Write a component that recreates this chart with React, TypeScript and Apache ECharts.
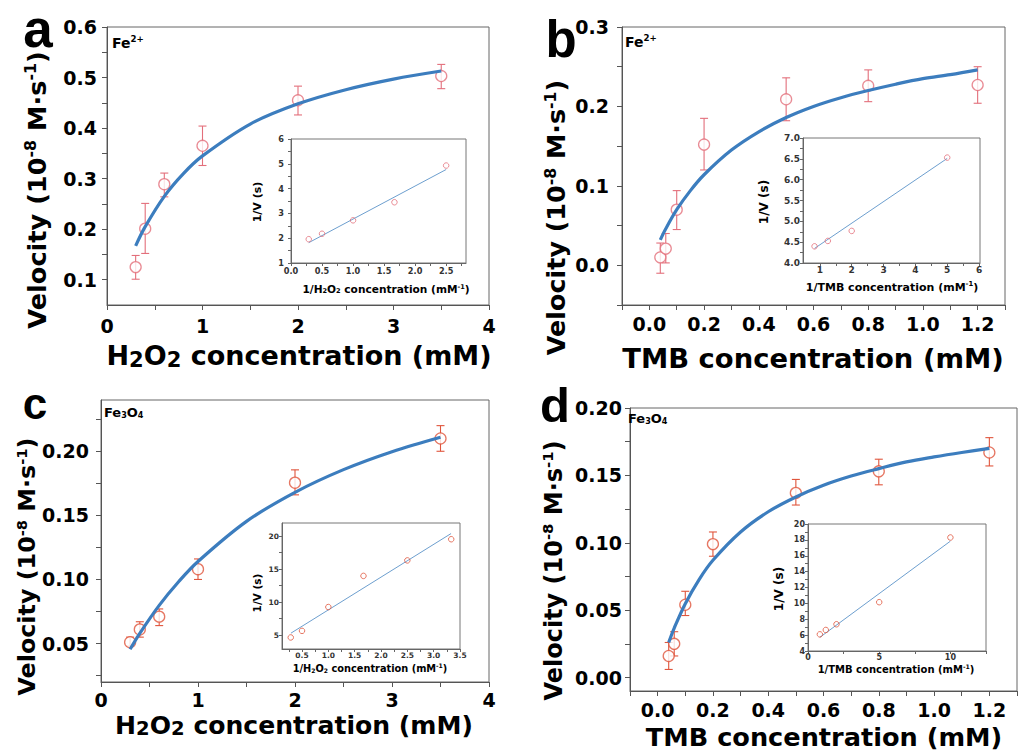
import React, { useEffect, useRef } from 'react';
import * as echarts from 'echarts';

// ---------- Panel a : Fe2+, H2O2 ----------
const aConc = [0.3, 0.4, 0.6, 1.0, 2.0, 3.5];
const aVel = [0.125, 0.201, 0.289, 0.365, 0.455, 0.503];
const aLow = [0.101, 0.152, 0.264, 0.326, 0.426, 0.478];
const aHigh = [0.148, 0.251, 0.311, 0.404, 0.483, 0.526];
const aFitX = [0.3, 0.4, 0.6, 0.8, 1.0, 1.5, 2.0, 2.5, 3.0, 3.5];
const aFitY = [0.167, 0.205, 0.265, 0.31, 0.345, 0.408, 0.448, 0.476, 0.497, 0.513];
const aInvX = [0.286, 0.5, 1.0, 1.667, 2.5];
const aInvY = [1.96, 2.18, 2.72, 3.45, 4.93];
const aLineX = [0.286, 2.5];
const aLineY = [1.82, 4.77];

// ---------- Panel b : Fe2+, TMB ----------
const bConc = [0.04, 0.06, 0.1, 0.2, 0.5, 0.8, 1.2];
const bVel = [0.01, 0.021, 0.07, 0.152, 0.209, 0.226, 0.227];
const bLow = [-0.01, 0.003, 0.045, 0.12, 0.182, 0.206, 0.204];
const bHigh = [0.028, 0.04, 0.094, 0.185, 0.236, 0.246, 0.25];
const bFitX = [0.04, 0.06, 0.1, 0.15, 0.2, 0.3, 0.4, 0.5, 0.6, 0.7, 0.8, 0.9, 1.0, 1.1, 1.2];
const bFitY = [0.032, 0.046, 0.07, 0.094, 0.114, 0.145, 0.168, 0.186, 0.2, 0.211, 0.22, 0.228, 0.235, 0.24, 0.246];
const bInvX = [0.833, 1.25, 2.0, 5.0];
const bInvY = [4.4, 4.53, 4.77, 6.53];
const bLineX = [0.833, 5.0];
const bLineY = [4.35, 6.51];

// ---------- Panel c : Fe3O4, H2O2 ----------
const cConc = [0.3, 0.4, 0.6, 1.0, 2.0, 3.5];
const cVel = [0.051, 0.061, 0.071, 0.108, 0.1755, 0.21];
const cLow = [0.048, 0.055, 0.064, 0.1, 0.166, 0.2];
const cHigh = [0.055, 0.067, 0.077, 0.116, 0.1855, 0.22];
const cFitX = [0.3, 0.4, 0.6, 0.8, 1.0, 1.5, 2.0, 2.5, 3.0, 3.5];
const cFitY = [0.0456, 0.058, 0.0798, 0.0982, 0.114, 0.1453, 0.168, 0.1857, 0.1997, 0.211];
const cInvX = [0.286, 0.5, 1.0, 1.667, 2.5, 3.333];
const cInvY = [4.65, 5.65, 9.26, 13.98, 16.33, 19.54];
const cLineX = [0.29, 3.33];
const cLineY = [5.3, 20.4];

// ---------- Panel d : Fe3O4, TMB ----------
const dConc = [0.04, 0.06, 0.1, 0.2, 0.5, 0.8, 1.2];
const dVel = [0.016, 0.025, 0.054, 0.099, 0.137, 0.153, 0.167];
const dLow = [0.006, 0.016, 0.046, 0.09, 0.128, 0.143, 0.157];
const dHigh = [0.026, 0.034, 0.064, 0.108, 0.147, 0.162, 0.178];
const dFitX = [0.04, 0.06, 0.1, 0.15, 0.2, 0.3, 0.4, 0.5, 0.6, 0.7, 0.8, 0.9, 1.0, 1.1, 1.2];
const dFitY = [0.026, 0.0367, 0.0548, 0.0727, 0.087, 0.108, 0.123, 0.134, 0.1427, 0.1495, 0.155, 0.16, 0.1637, 0.167, 0.17];
const dInvX = [0.833, 1.25, 2.0, 5.0, 10.0];
const dInvY = [6.1, 6.65, 7.37, 10.15, 18.3];
const dLineX = [0.83, 10.0];
const dLineY = [5.72, 17.84];

// ---------- tick labels / tick positions ----------
const aXLabels = [0, 1, 2, 3, 4];
const aXTicks = [0, 0.5, 1, 1.5, 2, 2.5, 3, 3.5, 4];
const aYLabels = [0.1, 0.2, 0.3, 0.4, 0.5, 0.6];
const aYTicks = [0.1, 0.15, 0.2, 0.25, 0.3, 0.35, 0.4, 0.45, 0.5, 0.55, 0.6];
const bXLabels = [0, 0.2, 0.4, 0.6, 0.8, 1.0, 1.2];
const bXTicks = [-0.1, 0, 0.1, 0.2, 0.3, 0.4, 0.5, 0.6, 0.7, 0.8, 0.9, 1.0, 1.1, 1.2, 1.3];
const bYLabels = [0, 0.1, 0.2, 0.3];
const bYTicks = [-0.05, 0, 0.05, 0.1, 0.15, 0.2, 0.25, 0.3];
const cXLabels = [0, 1, 2, 3, 4];
const cXTicks = [0, 0.5, 1, 1.5, 2, 2.5, 3, 3.5, 4];
const cYLabels = [0.05, 0.1, 0.15, 0.2];
const cYTicks = [0.025, 0.05, 0.075, 0.1, 0.125, 0.15, 0.175, 0.2, 0.225];
const dXLabels = [0, 0.2, 0.4, 0.6, 0.8, 1.0, 1.2];
const dXTicks = [-0.1, 0, 0.1, 0.2, 0.3, 0.4, 0.5, 0.6, 0.7, 0.8, 0.9, 1.0, 1.1, 1.2, 1.3];
const dYLabels = [0, 0.05, 0.1, 0.15, 0.2];
const dYTicks = [0, 0.025, 0.05, 0.075, 0.1, 0.125, 0.15, 0.175, 0.2];

const iaXLabels = [0, 0.5, 1.0, 1.5, 2.0, 2.5];
const iaXTicks = [0, 0.25, 0.5, 0.75, 1, 1.25, 1.5, 1.75, 2, 2.25, 2.5, 2.75];
const iaYLabels = [1, 2, 3, 4, 5, 6];
const iaYTicks = [1, 1.5, 2, 2.5, 3, 3.5, 4, 4.5, 5, 5.5, 6];
const ibXLabels = [1, 2, 3, 4, 5, 6];
const ibXTicks = [1, 1.5, 2, 2.5, 3, 3.5, 4, 4.5, 5, 5.5, 6];
const ibYLabels = [4.0, 4.5, 5.0, 5.5, 6.0, 6.5, 7.0];
const ibYTicks = [4, 4.25, 4.5, 4.75, 5, 5.25, 5.5, 5.75, 6, 6.25, 6.5, 6.75, 7];
const icXLabels = [0.5, 1.0, 1.5, 2.0, 2.5, 3.0, 3.5];
const icXTicks = [0.25, 0.5, 0.75, 1, 1.25, 1.5, 1.75, 2, 2.25, 2.5, 2.75, 3, 3.25, 3.5];
const icYLabels = [5, 10, 15, 20];
const icYTicks = [5, 7.5, 10, 12.5, 15, 17.5, 20];
const idXLabels = [0, 5, 10];
const idXTicks = [0, 2.5, 5, 7.5, 10, 12.5];
const idYLabels = [4, 6, 8, 10, 12, 14, 16, 18, 20];
const idYTicks = [4, 5, 6, 7, 8, 9, 10, 11, 12, 13, 14, 15, 16, 17, 18, 19, 20];

const FONT = 'DejaVu Sans';
const LETTER_FONT = 'Liberation Sans';
const CURVE = '#3c7dbe';
const PINK = '#e36f7b';
const RED = '#e0553c';
const INSET_LINE = '#6d9fcf';
const AXIS = '#555';

const zip = (xs: number[], ys: number[]) => xs.map((x, i) => [x, ys[i]]);

function mainAxes(gi: number, xr: number[], yr: number[], xL: number[], xT: number[], yL: number[], yT: number[], fx: (v: number) => string, fy: (v: number) => string, ym: number, xm: number) {
  const common = {
    type: 'value',
    gridIndex: gi,
    splitLine: { show: false },
    axisLine: { show: true, onZero: false, lineStyle: { color: AXIS, width: 1 } },
  };
  const lab = { fontFamily: FONT, fontWeight: 'bold', fontSize: 19, color: '#000' };
  const x = {
    ...common,
    min: xr[0], max: xr[1],
    axisTick: { show: true, inside: false, length: 5, customValues: xT, lineStyle: { color: AXIS } },
    axisLabel: { ...lab, customValues: xL, formatter: fx, margin: xm, showMinLabel: true, showMaxLabel: true },
  };
  const y = {
    ...common,
    min: yr[0], max: yr[1],
    axisTick: { show: true, inside: false, length: 5, customValues: yT, lineStyle: { color: AXIS } },
    axisLabel: { ...lab, customValues: yL, formatter: fy, margin: ym, showMinLabel: true, showMaxLabel: true },
  };
  return { x, y };
}

function insetAxes(gi: number, xr: number[], yr: number[], xL: number[], xT: number[], yL: number[], yT: number[], fx: (v: number) => string, fy: (v: number) => string, fs: number, xm = 2, ym = 3) {
  const common = {
    type: 'value',
    gridIndex: gi,
    splitLine: { show: false },
    axisLine: { show: true, onZero: false, lineStyle: { color: '#666', width: 1 } },
  };
  const lab = { fontFamily: FONT, fontWeight: 'bold', fontSize: fs, color: '#333' };
  return {
    x: {
      ...common, min: xr[0], max: xr[1],
      axisTick: { show: true, inside: false, length: 3, customValues: xT, lineStyle: { color: '#666' } },
      axisLabel: { ...lab, customValues: xL, formatter: fx, margin: xm, showMinLabel: true, showMaxLabel: true },
    },
    y: {
      ...common, min: yr[0], max: yr[1],
      axisTick: { show: true, inside: false, length: 3, customValues: yT, lineStyle: { color: '#666' } },
      axisLabel: { ...lab, customValues: yL, formatter: fy, margin: ym, showMinLabel: true, showMaxLabel: true },
    },
  };
}

function mainSeries(gi: number, conc: number[], vel: number[], low: number[], high: number[], fitX: number[], fitY: number[], color: string) {
  return [
    {
      type: 'custom',
      xAxisIndex: gi, yAxisIndex: gi,
      data: conc.map((c, i) => [c, low[i], high[i]]),
      encode: { x: 0, y: [1, 2] },
      z: 3,
      renderItem: (params: any, api: any) => {
        const x = api.value(0);
        const p1 = api.coord([x, api.value(1)]);
        const p2 = api.coord([x, api.value(2)]);
        const w = 4;
        const st = { stroke: color, lineWidth: 1.1 };
        return {
          type: 'group',
          children: [
            { type: 'line', shape: { x1: p1[0], y1: p1[1], x2: p2[0], y2: p2[1] }, style: st },
            { type: 'line', shape: { x1: p1[0] - w, y1: p1[1], x2: p1[0] + w, y2: p1[1] }, style: st },
            { type: 'line', shape: { x1: p2[0] - w, y1: p2[1], x2: p2[0] + w, y2: p2[1] }, style: st },
          ],
        };
      },
    },
    {
      type: 'scatter',
      xAxisIndex: gi, yAxisIndex: gi,
      data: zip(conc, vel),
      symbol: 'circle',
      symbolSize: 11,
      z: 4,
      itemStyle: { color: '#fff', borderColor: color, borderWidth: 1.3 },
    },
    {
      type: 'line',
      xAxisIndex: gi, yAxisIndex: gi,
      data: zip(fitX, fitY),
      smooth: 0.35,
      showSymbol: false,
      symbol: 'none',
      z: 5,
      lineStyle: { color: CURVE, width: 3.2 },
    },
  ];
}

function insetSeries(gi: number, ix: number[], iy: number[], lx: number[], ly: number[], color: string) {
  return [
    {
      type: 'line',
      xAxisIndex: gi, yAxisIndex: gi,
      data: zip(lx, ly),
      showSymbol: false,
      symbol: 'none',
      z: 5,
      lineStyle: { color: INSET_LINE, width: 1 },
    },
    {
      type: 'scatter',
      xAxisIndex: gi, yAxisIndex: gi,
      data: zip(ix, iy),
      symbol: 'circle',
      symbolSize: 5.5,
      z: 6,
      itemStyle: { color: 'rgba(255,255,255,0)', borderColor: color, borderWidth: 1 },
    },
  ];
}

function textEl(x: number, y: number, text: string, rich: any, align: string, rotation = 0) {
  return {
    type: 'text',
    x, y, rotation,
    z: 100,
    style: {
      text, rich,
      align, verticalAlign: 'middle',
      textAlign: align, textVerticalAlign: 'middle',
      fill: '#000',
    },
  };
}

function richSet(fs: number, color = '#000') {
  const base = { fontWeight: 'bold', fontFamily: FONT, fill: color, color };
  return {
    // main text
    m: { ...base, fontSize: fs, lineHeight: fs * 1.1 },
    // superscript (title)
    s: { ...base, fontSize: fs * 0.62, lineHeight: fs * 0.44, verticalAlign: 'top' },
    // superscript (small labels, raised more)
    p: { ...base, fontSize: fs * 0.62, lineHeight: fs * 0.22, verticalAlign: 'top' },
    // big subscript (titles)
    b: { ...base, fontSize: fs * 0.78, lineHeight: fs * 0.3, verticalAlign: 'bottom' },
    // small subscript
    t: { ...base, fontSize: fs * 0.62, lineHeight: fs * 0.16, verticalAlign: 'bottom' },
  };
}

function letter(x: number, y: number, t: string, fs: number) {
  return {
    type: 'text', x, y, z: 100,
    style: {
      text: t, fontSize: fs, fontWeight: 'bold', fontFamily: LETTER_FONT, fill: '#000',
      align: 'center', verticalAlign: 'middle', textAlign: 'center', textVerticalAlign: 'middle',
    },
  };
}

const f0 = (v: number) => String(Math.round(v));
const f1 = (v: number) => v.toFixed(1);
const f2 = (v: number) => v.toFixed(2);

export default function App() {
  const ref = useRef<HTMLDivElement>(null);
  useEffect(() => {
    if (!ref.current) return;
    const chart = echarts.init(ref.current, undefined, { renderer: 'svg' });

    const grids = [
      { left: 107, top: 27, width: 382, height: 278 },
      { left: 622, top: 27, width: 383, height: 278 },
      { left: 101, top: 400, width: 388, height: 282 },
      { left: 630, top: 408, width: 387, height: 283 },
      { left: 291, top: 139, width: 175, height: 124 },
      { left: 803, top: 138, width: 177, height: 125 },
      { left: 282, top: 523, width: 178, height: 126 },
      { left: 808, top: 524, width: 178, height: 127 },
    ].map((g, i) => ({
      ...g,
      show: true,
      borderColor: i < 4 ? '#666' : '#777',
      borderWidth: 1,
      backgroundColor: '#fff',
      containLabel: false,
      outerBoundsMode: 'none',
    }));

    const A = mainAxes(0, [0, 4], [0.05, 0.6], aXLabels, aXTicks, aYLabels, aYTicks, f0, f1, 10, 11);
    const B = mainAxes(1, [-0.1, 1.3], [-0.05, 0.3], bXLabels, bXTicks, bYLabels, bYTicks, f1, f1, 13, 9.5);
    const C = mainAxes(2, [0, 4], [0.02, 0.24], cXLabels, cXTicks, cYLabels, cYTicks, f0, f2, 12, 8);
    const D = mainAxes(3, [-0.1, 1.3], [-0.01, 0.2], dXLabels, dXTicks, dYLabels, dYTicks, f1, f2, 8, 9.5);
    const IA = insetAxes(4, [0, 2.82], [1, 6], iaXLabels, iaXTicks, iaYLabels, iaYTicks, f1, f0, 8.2, 4, 7);
    const IB = insetAxes(5, [0.47, 6.03], [4, 7], ibXLabels, ibXTicks, ibYLabels, ibYTicks, f0, f1, 9);
    const IC = insetAxes(6, [0.12, 3.5], [2.9, 22], icXLabels, icXTicks, icYLabels, icYTicks, f1, f0, 7.5);
    const ID = insetAxes(7, [0, 12.5], [4, 20], idXLabels, idXTicks, idYLabels, idYTicks, f0, f0, 8);

    const yTitle = '{m|Velocity (10}{s|-8}{m| M·s}{s|-1}{m|)}';
    const xH2O2 = '{m|H}{b|2}{m|O}{b|2}{m| concentration (mM)}';
    const xTMB = '{m|TMB concentration (mM)}';
    const iY = '{m|1/V (s)}';
    const iH2O2 = '{m|1/H}{t|2}{m|O}{t|2}{m| concentration (mM}{p|-1}{m|)}';
    const iTMB = '{m|1/TMB concentration (mM}{p|-1}{m|)}';
    const feII = '{m|Fe}{p|2+}';
    const fe3o4 = '{m|Fe}{t|3}{m|O}{t|4}';
    const R = Math.PI / 2;

    const graphic = [
      letter(38, 28, 'a', 53),
      letter(561, 39, 'b', 51),
      letter(35, 403, 'c', 44),
      letter(555, 405, 'd', 49),
      textEl(37, 190, yTitle, richSet(25.6), 'center', R),
      textEl(556, 217.5, yTitle, richSet(25.4), 'center', R),
      textEl(27, 566.5, yTitle, richSet(23.8), 'center', R),
      textEl(553.5, 570.5, yTitle, richSet(24), 'center', R),
      textEl(299, 355, xH2O2, richSet(27), 'center'),
      textEl(813, 358, xTMB, richSet(27.4), 'center'),
      textEl(294, 725, xH2O2, richSet(25.1), 'center'),
      textEl(824, 737, xTMB, richSet(25.6), 'center'),
      textEl(257, 202, iY, richSet(11), 'center', R),
      textEl(764, 202, iY, richSet(12), 'center', R),
      textEl(257, 593, iY, richSet(10.5), 'center', R),
      textEl(779, 589, iY, richSet(12), 'center', R),
      textEl(386, 289, iH2O2, richSet(10.6), 'center'),
      textEl(892, 287, iTMB, richSet(11), 'center'),
      textEl(370, 668, iH2O2, richSet(9.8), 'center'),
      textEl(896, 669, iTMB, richSet(10), 'center'),
      textEl(112, 42.5, feII, richSet(14), 'left'),
      textEl(625, 41.5, feII, richSet(14), 'left'),
      textEl(104, 412.5, fe3o4, richSet(13), 'left'),
      textEl(628, 418, fe3o4, richSet(13), 'left'),
    ];

    chart.setOption({
      animation: false,
      backgroundColor: '#fff',
      grid: grids,
      xAxis: [A.x, B.x, C.x, D.x, IA.x, IB.x, IC.x, ID.x],
      yAxis: [A.y, B.y, C.y, D.y, IA.y, IB.y, IC.y, ID.y],
      series: [
        ...mainSeries(0, aConc, aVel, aLow, aHigh, aFitX, aFitY, PINK),
        ...mainSeries(1, bConc, bVel, bLow, bHigh, bFitX, bFitY, PINK),
        ...mainSeries(2, cConc, cVel, cLow, cHigh, cFitX, cFitY, RED),
        ...mainSeries(3, dConc, dVel, dLow, dHigh, dFitX, dFitY, RED),
        ...insetSeries(4, aInvX, aInvY, aLineX, aLineY, PINK),
        ...insetSeries(5, bInvX, bInvY, bLineX, bLineY, PINK),
        ...insetSeries(6, cInvX, cInvY, cLineX, cLineY, RED),
        ...insetSeries(7, dInvX, dInvY, dLineX, dLineY, RED),
      ],
      graphic,
    });
    return () => chart.dispose();
  }, []);
  return (
    <div
      ref={ref}
      style={{ position: 'absolute', left: 0, top: 0, width: 1018, height: 753, background: '#fff' }}
    />
  );
}
